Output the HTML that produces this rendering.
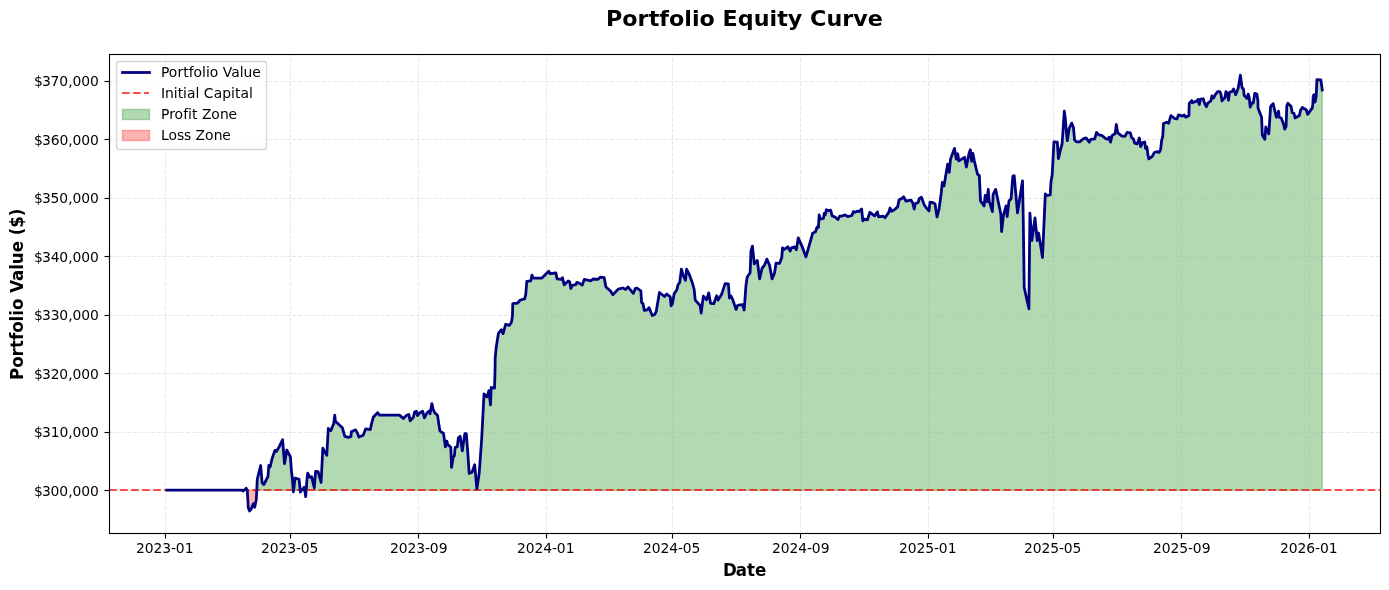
<!DOCTYPE html>
<html lang="en"><head><meta charset="utf-8"><title>Portfolio Equity Curve</title>
<style>html,body{margin:0;padding:0;background:#fff}body{width:1389px;height:590px;overflow:hidden}svg{display:block;position:absolute;left:0;top:0}text{font-family:'DejaVu Sans','Liberation Sans',sans-serif;fill:#000}.t10{font-size:13.889px}.t12{font-size:16.667px;font-weight:700}.t16{font-size:22.222px;font-weight:700}.grid{fill:none;stroke:#b0b0b0;stroke-opacity:.3;stroke-width:1.111;stroke-dasharray:4.111 1.778}.tick{fill:none;stroke:#000;stroke-width:1.111}</style></head><body>
<svg width="1389" height="590" viewBox="0 0 1389 590">
<defs><clipPath id="ax"><rect x="109.15" y="53.78" width="1270.85" height="478.94"/></clipPath></defs>
<rect x="0" y="0" width="1389" height="590" fill="#fff"/>
<g clip-path="url(#ax)">
<path d="M166.92 490.20L166.92 490.20L242.00 490.20L242.00 490.20ZM257.30 490.20L257.30 479.00L260.70 465.50L262.10 482.80L263.80 484.60L268.00 476.50L268.80 465.50L270.20 466.80L272.00 459.00L274.90 450.40L276.40 451.50L279.20 446.80L282.60 439.60L284.50 463.70L286.80 450.00L290.40 456.90L291.50 471.50L292.40 479.00L292.40 490.20ZM295.00 490.20L295.00 478.20L299.10 479.40L299.10 490.20ZM306.90 490.20L306.90 480.10L307.70 473.10L309.90 477.40L311.60 476.70L314.30 487.90L315.60 471.30L318.10 471.60L321.10 482.50L322.80 448.20L326.80 455.40L328.28 428.44L330.80 430.60L333.68 423.76L334.76 415.12L335.48 421.60L337.28 423.04L342.32 427.72L344.84 436.36L348.44 437.44L350.96 436.36L351.32 431.68L355.64 429.88L357.44 433.12L358.88 437.08L363.20 435.28L365.72 428.80L370.40 429.52L371.48 423.76L373.28 417.28L377.60 412.60L379.40 415.12L399.55 415.12L403.30 418.60L406.20 415.60L408.80 414.40L410.10 420.80L413.40 417.20L414.60 412.00L416.40 411.30L417.50 415.60L419.20 413.30L422.60 411.20L424.40 417.90L427.00 412.80L429.10 411.00L430.10 413.80L431.90 403.60L433.20 409.50L434.80 412.80L437.60 415.60L438.80 423.92L439.88 430.76L440.96 431.84L443.48 433.28L445.40 446.92L446.84 441.16L447.56 444.40L450.80 447.28L451.52 467.44L453.32 456.64L454.40 455.92L455.12 447.28L457.28 446.92L458.36 437.92L460.16 436.12L462.32 450.88L464.84 433.60L466.28 433.60L467.72 451.60L469.16 473.36L472.04 472.28L474.70 464.72L476.86 488.84L479.24 473.00L481.60 440.00L482.70 419.60L484.00 394.00L486.90 396.90L488.90 390.80L490.50 404.80L491.20 387.50L494.50 388.20L495.00 372.40L495.20 357.97L496.28 346.96L498.44 333.28L501.32 329.68L503.12 333.64L505.64 324.28L509.24 325.36L511.40 322.48L512.48 316.00L512.76 303.60L517.44 303.24L520.32 300.00L524.64 298.92L525.72 294.96L526.80 281.28L530.76 280.92L531.98 275.16L533.28 278.04L541.92 278.04L548.75 271.20L550.19 273.72L555.95 273.00L557.03 278.76L561.35 279.48L562.43 277.68L564.23 284.88L568.19 280.92L569.63 281.64L570.86 288.48L572.51 285.24L575.75 284.52L576.83 282.36L579.68 283.32L582.20 285.12L584.36 279.36L590.84 280.80L593.00 279.00L598.04 279.36L600.20 277.20L604.16 277.56L605.96 286.92L611.00 291.60L612.80 294.84L618.20 289.08L622.88 288.00L625.76 289.44L627.92 286.92L633.32 293.40L635.48 288.36L636.92 288.00L640.87 290.88L641.59 302.40L643.03 303.84L644.32 310.52L647.20 309.80L649.00 307.64L652.24 315.56L654.76 314.48L656.20 311.60L659.44 292.52L664.48 296.48L666.78 293.96L670.24 296.84L671.10 305.84L672.40 303.68L674.20 293.60L676.88 289.72L677.96 285.04L679.76 282.16L681.41 269.20L683.36 275.68L685.52 280.36L686.60 269.20L689.48 274.96L692.36 282.88L694.16 289.36L695.24 300.16L700.12 305.48L701.20 313.04L703.35 296.12L706.59 299.72L708.75 292.88L710.55 303.32L713.79 303.68L716.67 295.76L718.11 300.08L721.88 293.68L725.12 283.60L728.35 283.96L729.43 298.00L730.87 295.84L732.67 299.44L736.11 309.44L737.55 305.48L738.50 305.20L742.60 304.60L744.20 310.00L745.90 286.00L747.20 277.00L750.12 272.76L750.98 250.80L752.42 246.12L754.29 263.76L757.32 260.52L759.62 278.88L762.00 268.44L764.52 265.20L766.89 259.08L769.56 265.20L772.08 278.88L774.60 272.76L776.04 263.04L779.64 263.40L781.80 257.28L782.52 247.92L784.32 249.36L787.92 246.84L790.08 251.16L791.52 247.92L794.76 246.84L796.34 249.72L798.28 237.84L802.67 247.92L805.91 256.92L809.08 245.97L812.68 233.16L815.56 231.72L817.00 227.04L818.44 227.40L819.16 214.80L820.24 219.12L823.48 218.40L824.20 213.36L825.28 214.80L826.36 209.76L828.52 210.84L830.68 210.12L832.12 215.88L835.00 216.96L837.88 219.48L839.68 216.24L842.56 215.88L845.08 214.80L847.60 216.60L851.92 215.52L853.35 211.56L855.15 212.28L856.95 211.20L859.11 211.56L861.63 209.04L862.86 220.92L864.87 219.12L867.39 219.84L869.91 212.28L874.59 215.88L877.47 211.92L878.55 216.96L882.87 216.24L885.03 217.68L888.63 212.64L890.08 207.96L891.52 211.20L894.40 209.76L897.64 206.88L899.08 199.68L901.60 198.60L903.76 196.80L905.92 201.12L910.96 200.04L912.76 202.92L914.20 209.04L915.28 203.64L918.16 202.56L919.24 198.60L921.40 197.16L924.28 205.08L926.80 208.32L928.96 210.84L930.04 202.20L932.56 202.56L935.08 204.00L937.02 216.96L939.04 209.04L941.20 193.20L942.30 182.40L944.00 186.00L947.64 164.16L949.29 172.44L950.52 159.12L954.48 148.32L956.28 159.12L957.72 153.72L958.80 160.92L964.56 157.32L966.36 167.04L969.24 152.64L970.32 149.76L971.61 161.28L972.84 153.36L974.28 160.56L977.52 174.24L979.32 175.32L980.52 200.88L984.12 205.92L985.20 195.48L987.00 201.60L988.22 189.36L989.16 200.88L992.40 211.68L993.12 194.40L995.64 189.36L1000.80 214.00L1001.60 231.50L1003.50 215.00L1006.10 205.90L1007.20 216.50L1009.00 200.90L1011.10 198.70L1012.80 176.30L1014.20 175.60L1017.50 212.80L1022.50 180.80L1023.30 222.00L1024.20 287.50L1028.90 308.80L1029.90 213.20L1031.90 240.50L1035.00 218.00L1037.20 240.50L1038.60 233.00L1042.50 257.50L1045.30 194.00L1047.10 195.50L1050.20 195.00L1051.00 181.50L1052.20 175.00L1053.90 142.00L1057.30 142.20L1058.40 158.60L1060.90 148.00L1062.10 144.00L1064.30 111.20L1065.30 118.50L1066.30 131.40L1067.36 140.72L1069.16 128.48L1071.68 123.08L1073.48 127.76L1074.56 140.00L1076.36 141.80L1079.60 141.80L1083.20 138.92L1086.08 137.84L1089.32 142.16L1090.76 139.28L1094.72 138.92L1096.52 132.44L1099.04 134.96L1102.28 135.68L1105.51 138.56L1108.03 139.28L1109.11 137.12L1110.55 142.16L1111.99 135.68L1115.23 133.52L1116.31 124.52L1117.75 132.80L1122.07 136.04L1124.95 136.40L1127.11 132.44L1130.35 132.80L1131.43 137.12L1133.59 139.28L1134.67 143.24L1137.19 143.96L1138.99 139.28L1139.36 138.00L1140.66 146.64L1142.60 142.68L1144.76 141.96L1145.48 148.44L1146.92 147.00L1148.00 155.28L1148.86 158.88L1152.32 156.36L1154.12 152.76L1156.64 151.68L1159.16 152.40L1160.60 149.52L1161.68 140.16L1162.76 136.56L1163.48 123.60L1166.56 122.16L1168.72 123.24L1170.88 115.68L1174.84 118.56L1177.00 118.92L1178.44 114.96L1182.40 116.04L1184.20 114.96L1185.64 117.12L1188.88 115.68L1189.24 103.44L1191.76 100.56L1192.48 102.72L1197.16 100.92L1197.88 99.48L1199.32 104.52L1200.40 99.12L1203.28 98.76L1204.72 103.80L1206.52 106.68L1207.60 103.44L1210.84 100.92L1211.92 95.88L1213.71 98.04L1215.15 94.80L1217.67 91.56L1219.83 91.56L1220.91 94.08L1221.99 100.92L1224.87 97.68L1225.95 91.56L1227.39 93.36L1228.47 100.20L1229.55 92.28L1232.43 91.20L1233.51 89.04L1235.67 94.80L1238.19 88.32L1240.38 75.14L1242.04 87.60L1243.48 89.04L1244.20 95.52L1247.08 98.40L1248.16 94.08L1249.24 97.68L1250.20 107.20L1251.90 103.00L1253.30 103.00L1254.80 93.40L1256.80 94.10L1257.90 100.60L1258.00 107.92L1261.60 117.28L1262.32 135.28L1264.84 139.24L1265.77 127.00L1268.80 133.84L1270.60 106.48L1273.12 103.60L1276.36 117.28L1278.52 111.16L1279.24 117.28L1281.40 118.36L1283.92 125.20L1284.64 129.16L1286.08 126.64L1286.80 105.76L1287.88 103.24L1291.12 106.48L1292.20 112.60L1294.00 113.32L1295.08 118.00L1299.40 115.48L1300.48 110.44L1302.28 107.56L1306.23 109.72L1307.67 114.40L1312.35 107.92L1312.86 103.60L1313.20 96.20L1314.00 94.80L1315.10 102.00L1316.20 96.20L1316.90 79.70L1320.90 80.00L1322.23 90.00L1322.23 490.20Z" fill="#008000" fill-opacity=".3" stroke="#008000" stroke-opacity=".3" stroke-width="1.389" stroke-linejoin="round"/>
<path d="M247.30 490.20L247.30 490.30L248.30 507.90L249.60 510.95L251.30 508.80L253.50 503.60L254.70 507.20L256.30 499.50L256.30 490.20Z" fill="#ff0000" fill-opacity=".3" stroke="#ff0000" stroke-opacity=".3" stroke-width="1.389" stroke-linejoin="round"/>
</g>
<g class="grid">
<path d="M165.5 533.50V54.50"/>
<path d="M290.5 533.50V54.50"/>
<path d="M418.5 533.50V54.50"/>
<path d="M546.5 533.50V54.50"/>
<path d="M672.5 533.50V54.50"/>
<path d="M800.5 533.50V54.50"/>
<path d="M928.5 533.50V54.50"/>
<path d="M1053.5 533.50V54.50"/>
<path d="M1181.5 533.50V54.50"/>
<path d="M1309.5 533.50V54.50"/>
</g><g class="tick">
<path d="M165.5 533.50v5"/>
<path d="M290.5 533.50v5"/>
<path d="M418.5 533.50v5"/>
<path d="M546.5 533.50v5"/>
<path d="M672.5 533.50v5"/>
<path d="M800.5 533.50v5"/>
<path d="M928.5 533.50v5"/>
<path d="M1053.5 533.50v5"/>
<path d="M1181.5 533.50v5"/>
<path d="M1309.5 533.50v5"/>
</g>
<text class="t10" transform="translate(0 553) scale(1 1.01)" x="135.91 144.75 153.39 162.22 171.06 175.67 184.71">2023-01</text>
<text class="t10" transform="translate(0 553) scale(1 1.01)" x="261.05 269.69 278.52 287.16 296 300.81 309.45">2023-05</text>
<text class="t10" transform="translate(0 553) scale(1 1.01)" x="389.92 398.76 407.39 416.23 425.07 429.68 438.71">2023-09</text>
<text class="t10" transform="translate(0 553) scale(1 1.01)" x="517.04 525.68 534.52 543.15 551.99 556.8 565.84">2024-01</text>
<text class="t10" transform="translate(0 553) scale(1 1.01)" x="642.92 651.76 660.4 669.23 678.07 682.68 691.52">2024-05</text>
<text class="t10" transform="translate(0 553) scale(1 1.01)" x="771.89 780.73 789.57 798.2 807.04 811.65 820.69">2024-09</text>
<text class="t10" transform="translate(0 553) scale(1 1.01)" x="898.92 907.75 916.39 925.23 934.06 938.68 947.71">2025-01</text>
<text class="t10" transform="translate(0 553) scale(1 1.01)" x="1024.06 1032.69 1041.53 1050.17 1059 1063.81 1072.45">2025-05</text>
<text class="t10" transform="translate(0 553) scale(1 1.01)" x="1152.92 1161.76 1170.4 1179.23 1188.07 1192.68 1201.72">2025-09</text>
<text class="t10" transform="translate(0 553) scale(1 1.01)" x="1280.05 1288.69 1297.52 1306.16 1314.99 1320.01 1328.84">2026-01</text>
<text class="t12" transform="translate(0 576) scale(1 1.02)" x="722.92 735.76 747.01 754.97">Date</text>
<g class="grid">
<path d="M109.50 490.5H1380.50"/>
<path d="M109.50 432.5H1380.50"/>
<path d="M109.50 373.5H1380.50"/>
<path d="M109.50 315.5H1380.50"/>
<path d="M109.50 256.5H1380.50"/>
<path d="M109.50 198.5H1380.50"/>
<path d="M109.50 139.5H1380.50"/>
<path d="M109.50 81.5H1380.50"/>
</g><g class="tick">
<path d="M109.50 490.5h-5"/>
<path d="M109.50 432.5h-5"/>
<path d="M109.50 373.5h-5"/>
<path d="M109.50 315.5h-5"/>
<path d="M109.50 256.5h-5"/>
<path d="M109.50 198.5h-5"/>
<path d="M109.50 139.5h-5"/>
<path d="M109.50 81.5h-5"/>
</g>
<text class="t10" transform="translate(0 496) scale(1 1.01)" x="33.93 41.97 50.4 59.24 68.28 72.49 81.33 89.96">$300,000</text>
<text class="t10" transform="translate(0 437) scale(1 1.01)" x="33.93 41.97 50.8 59.44 68.28 72.49 81.33 89.96">$310,000</text>
<text class="t10" transform="translate(0 379) scale(1 1.01)" x="34.03 42.07 50.7 59.14 68.18 72.39 81.23 90.06">$320,000</text>
<text class="t10" transform="translate(0 320) scale(1 1.01)" x="34.03 42.07 50.7 59.14 68.18 72.39 81.23 90.06">$330,000</text>
<text class="t10" transform="translate(0 262) scale(1 1.01)" x="34.03 42.07 50.7 59.14 68.18 72.39 81.23 90.06">$340,000</text>
<text class="t10" transform="translate(0 203) scale(1 1.01)" x="34.03 42.07 50.5 59.14 68.18 72.39 81.23 90.06">$350,000</text>
<text class="t10" transform="translate(0 145) scale(1 1.01)" x="33.93 41.97 50.8 59.44 68.28 72.49 81.33 89.96">$360,000</text>
<text class="t10" transform="translate(0 86) scale(1 1.01)" x="34.03 42.07 50.5 59.14 68.18 72.39 81.23 90.06">$370,000</text>
<text class="t12" transform="translate(22.7 294.2) rotate(-90) scale(1 1.02)" x="-85.75 -73.53 -62.28 -53.86 -45.9 -38.64 -27.39 -21.68 -15.77 -4.72 1.49 13.18 24.43 29.94 42.01 54.11 58.92 66.53 77.93">Portfolio Value ($)</text>
<g clip-path="url(#ax)">
<path d="M109 490H1380" fill="none" stroke="#ff0000" stroke-opacity=".7" stroke-width="2.083" stroke-dasharray="7.708 3.333"/>
<path d="M166.92 490.20L242.00 490.20L243.30 491.00L246.20 488.30L247.30 490.30L248.30 507.90L249.60 510.95L251.30 508.80L253.50 503.60L254.70 507.20L256.30 499.50L257.30 479.00L260.70 465.50L262.10 482.80L263.80 484.60L268.00 476.50L268.80 465.50L270.20 466.80L272.00 459.00L274.90 450.40L276.40 451.50L279.20 446.80L282.60 439.60L284.50 463.70L286.80 450.00L290.40 456.90L291.50 471.50L292.40 479.00L293.40 491.80L295.00 478.20L299.10 479.40L300.40 492.00L304.20 487.20L305.70 496.70L306.90 480.10L307.70 473.10L309.90 477.40L311.60 476.70L314.30 487.90L315.60 471.30L318.10 471.60L321.10 482.50L322.80 448.20L326.80 455.40L328.28 428.44L330.80 430.60L333.68 423.76L334.76 415.12L335.48 421.60L337.28 423.04L342.32 427.72L344.84 436.36L348.44 437.44L350.96 436.36L351.32 431.68L355.64 429.88L357.44 433.12L358.88 437.08L363.20 435.28L365.72 428.80L370.40 429.52L371.48 423.76L373.28 417.28L377.60 412.60L379.40 415.12L399.55 415.12L403.30 418.60L406.20 415.60L408.80 414.40L410.10 420.80L413.40 417.20L414.60 412.00L416.40 411.30L417.50 415.60L419.20 413.30L422.60 411.20L424.40 417.90L427.00 412.80L429.10 411.00L430.10 413.80L431.90 403.60L433.20 409.50L434.80 412.80L437.60 415.60L438.80 423.92L439.88 430.76L440.96 431.84L443.48 433.28L445.40 446.92L446.84 441.16L447.56 444.40L450.80 447.28L451.52 467.44L453.32 456.64L454.40 455.92L455.12 447.28L457.28 446.92L458.36 437.92L460.16 436.12L462.32 450.88L464.84 433.60L466.28 433.60L467.72 451.60L469.16 473.36L472.04 472.28L474.70 464.72L476.86 488.84L479.24 473.00L481.60 440.00L482.70 419.60L484.00 394.00L486.90 396.90L488.90 390.80L490.50 404.80L491.20 387.50L494.50 388.20L495.00 372.40L495.20 357.97L496.28 346.96L498.44 333.28L501.32 329.68L503.12 333.64L505.64 324.28L509.24 325.36L511.40 322.48L512.48 316.00L512.76 303.60L517.44 303.24L520.32 300.00L524.64 298.92L525.72 294.96L526.80 281.28L530.76 280.92L531.98 275.16L533.28 278.04L541.92 278.04L548.75 271.20L550.19 273.72L555.95 273.00L557.03 278.76L561.35 279.48L562.43 277.68L564.23 284.88L568.19 280.92L569.63 281.64L570.86 288.48L572.51 285.24L575.75 284.52L576.83 282.36L579.68 283.32L582.20 285.12L584.36 279.36L590.84 280.80L593.00 279.00L598.04 279.36L600.20 277.20L604.16 277.56L605.96 286.92L611.00 291.60L612.80 294.84L618.20 289.08L622.88 288.00L625.76 289.44L627.92 286.92L633.32 293.40L635.48 288.36L636.92 288.00L640.87 290.88L641.59 302.40L643.03 303.84L644.32 310.52L647.20 309.80L649.00 307.64L652.24 315.56L654.76 314.48L656.20 311.60L659.44 292.52L664.48 296.48L666.78 293.96L670.24 296.84L671.10 305.84L672.40 303.68L674.20 293.60L676.88 289.72L677.96 285.04L679.76 282.16L681.41 269.20L683.36 275.68L685.52 280.36L686.60 269.20L689.48 274.96L692.36 282.88L694.16 289.36L695.24 300.16L700.12 305.48L701.20 313.04L703.35 296.12L706.59 299.72L708.75 292.88L710.55 303.32L713.79 303.68L716.67 295.76L718.11 300.08L721.88 293.68L725.12 283.60L728.35 283.96L729.43 298.00L730.87 295.84L732.67 299.44L736.11 309.44L737.55 305.48L738.50 305.20L742.60 304.60L744.20 310.00L745.90 286.00L747.20 277.00L750.12 272.76L750.98 250.80L752.42 246.12L754.29 263.76L757.32 260.52L759.62 278.88L762.00 268.44L764.52 265.20L766.89 259.08L769.56 265.20L772.08 278.88L774.60 272.76L776.04 263.04L779.64 263.40L781.80 257.28L782.52 247.92L784.32 249.36L787.92 246.84L790.08 251.16L791.52 247.92L794.76 246.84L796.34 249.72L798.28 237.84L802.67 247.92L805.91 256.92L809.08 245.97L812.68 233.16L815.56 231.72L817.00 227.04L818.44 227.40L819.16 214.80L820.24 219.12L823.48 218.40L824.20 213.36L825.28 214.80L826.36 209.76L828.52 210.84L830.68 210.12L832.12 215.88L835.00 216.96L837.88 219.48L839.68 216.24L842.56 215.88L845.08 214.80L847.60 216.60L851.92 215.52L853.35 211.56L855.15 212.28L856.95 211.20L859.11 211.56L861.63 209.04L862.86 220.92L864.87 219.12L867.39 219.84L869.91 212.28L874.59 215.88L877.47 211.92L878.55 216.96L882.87 216.24L885.03 217.68L888.63 212.64L890.08 207.96L891.52 211.20L894.40 209.76L897.64 206.88L899.08 199.68L901.60 198.60L903.76 196.80L905.92 201.12L910.96 200.04L912.76 202.92L914.20 209.04L915.28 203.64L918.16 202.56L919.24 198.60L921.40 197.16L924.28 205.08L926.80 208.32L928.96 210.84L930.04 202.20L932.56 202.56L935.08 204.00L937.02 216.96L939.04 209.04L941.20 193.20L942.30 182.40L944.00 186.00L947.64 164.16L949.29 172.44L950.52 159.12L954.48 148.32L956.28 159.12L957.72 153.72L958.80 160.92L964.56 157.32L966.36 167.04L969.24 152.64L970.32 149.76L971.61 161.28L972.84 153.36L974.28 160.56L977.52 174.24L979.32 175.32L980.52 200.88L984.12 205.92L985.20 195.48L987.00 201.60L988.22 189.36L989.16 200.88L992.40 211.68L993.12 194.40L995.64 189.36L1000.80 214.00L1001.60 231.50L1003.50 215.00L1006.10 205.90L1007.20 216.50L1009.00 200.90L1011.10 198.70L1012.80 176.30L1014.20 175.60L1017.50 212.80L1022.50 180.80L1023.30 222.00L1024.20 287.50L1028.90 308.80L1029.90 213.20L1031.90 240.50L1035.00 218.00L1037.20 240.50L1038.60 233.00L1042.50 257.50L1045.30 194.00L1047.10 195.50L1050.20 195.00L1051.00 181.50L1052.20 175.00L1053.90 142.00L1057.30 142.20L1058.40 158.60L1060.90 148.00L1062.10 144.00L1064.30 111.20L1065.30 118.50L1066.30 131.40L1067.36 140.72L1069.16 128.48L1071.68 123.08L1073.48 127.76L1074.56 140.00L1076.36 141.80L1079.60 141.80L1083.20 138.92L1086.08 137.84L1089.32 142.16L1090.76 139.28L1094.72 138.92L1096.52 132.44L1099.04 134.96L1102.28 135.68L1105.51 138.56L1108.03 139.28L1109.11 137.12L1110.55 142.16L1111.99 135.68L1115.23 133.52L1116.31 124.52L1117.75 132.80L1122.07 136.04L1124.95 136.40L1127.11 132.44L1130.35 132.80L1131.43 137.12L1133.59 139.28L1134.67 143.24L1137.19 143.96L1138.99 139.28L1139.36 138.00L1140.66 146.64L1142.60 142.68L1144.76 141.96L1145.48 148.44L1146.92 147.00L1148.00 155.28L1148.86 158.88L1152.32 156.36L1154.12 152.76L1156.64 151.68L1159.16 152.40L1160.60 149.52L1161.68 140.16L1162.76 136.56L1163.48 123.60L1166.56 122.16L1168.72 123.24L1170.88 115.68L1174.84 118.56L1177.00 118.92L1178.44 114.96L1182.40 116.04L1184.20 114.96L1185.64 117.12L1188.88 115.68L1189.24 103.44L1191.76 100.56L1192.48 102.72L1197.16 100.92L1197.88 99.48L1199.32 104.52L1200.40 99.12L1203.28 98.76L1204.72 103.80L1206.52 106.68L1207.60 103.44L1210.84 100.92L1211.92 95.88L1213.71 98.04L1215.15 94.80L1217.67 91.56L1219.83 91.56L1220.91 94.08L1221.99 100.92L1224.87 97.68L1225.95 91.56L1227.39 93.36L1228.47 100.20L1229.55 92.28L1232.43 91.20L1233.51 89.04L1235.67 94.80L1238.19 88.32L1240.38 75.14L1242.04 87.60L1243.48 89.04L1244.20 95.52L1247.08 98.40L1248.16 94.08L1249.24 97.68L1250.20 107.20L1251.90 103.00L1253.30 103.00L1254.80 93.40L1256.80 94.10L1257.90 100.60L1258.00 107.92L1261.60 117.28L1262.32 135.28L1264.84 139.24L1265.77 127.00L1268.80 133.84L1270.60 106.48L1273.12 103.60L1276.36 117.28L1278.52 111.16L1279.24 117.28L1281.40 118.36L1283.92 125.20L1284.64 129.16L1286.08 126.64L1286.80 105.76L1287.88 103.24L1291.12 106.48L1292.20 112.60L1294.00 113.32L1295.08 118.00L1299.40 115.48L1300.48 110.44L1302.28 107.56L1306.23 109.72L1307.67 114.40L1312.35 107.92L1312.86 103.60L1313.20 96.20L1314.00 94.80L1315.10 102.00L1316.20 96.20L1316.90 79.70L1320.90 80.00L1322.23 90.00" fill="none" stroke="#000080" stroke-width="2.778" stroke-linejoin="round" stroke-linecap="square"/>
</g>
<rect x="109.5" y="54.5" width="1271.0" height="479.0" fill="none" stroke="#000" stroke-width="1.111" stroke-linejoin="miter"/>
<text class="t16" transform="translate(0 26) scale(1 .98)" x="606.04 622.13 637.39 648.75 659.37 669.04 684.31 691.93 699.54 714.81 722.55 737.73 753.83 769.45 777.27 787.69 802.18 809.92 826.42 842.24 853.2 867.69">Portfolio Equity Curve</text>
<rect x="116.5" y="61.5" width="150" height="88" rx="2.78" ry="2.78" fill="#fff" fill-opacity=".8" stroke="#ccc" stroke-opacity=".8" stroke-width="1.389"/>
<path d="M122.5 72.5H149.5" fill="none" stroke="#000080" stroke-width="2.778" stroke-linecap="square"/>
<path d="M122 93H149" fill="none" stroke="#ff0000" stroke-opacity=".7" stroke-width="2.083" stroke-dasharray="7.708 3.333"/>
<rect x="122.5" y="109.5" width="27" height="10" fill="#008000" fill-opacity=".3" stroke="#008000" stroke-opacity=".3" stroke-width="1.389"/>
<rect x="122.5" y="130.5" width="27" height="10" fill="#ff0000" fill-opacity=".3" stroke="#ff0000" stroke-opacity=".3" stroke-width="1.389"/>
<text class="t10" transform="translate(0 77) scale(1 1.01)" x="160.9 168.68 177.57 183.28 188.73 193.62 202.12 205.97 209.83 218.33 222.75 231.25 239.76 243.42 252.22">Portfolio Value</text>
<text class="t10" transform="translate(0 98) scale(1 1.01)" x="161.1 165 173.8 177.86 182.9 186.96 195.47 199.53 203.75 213.64 222.16 230.97 235.03 240.48 248.99">Initial Capital</text>
<text class="t10" transform="translate(0 119) scale(1 1.01)" x="160.9 169.28 174.39 183.28 187.97 192.03 197.48 201.89 211.21 219.9 228.51">Profit Zone</text>
<text class="t10" transform="translate(0 140) scale(1 1.01)" x="160.9 168.44 176.94 183.97 191.41 195.42 204.94 213.83 222.24">Loss Zone</text>
</svg></body></html>
